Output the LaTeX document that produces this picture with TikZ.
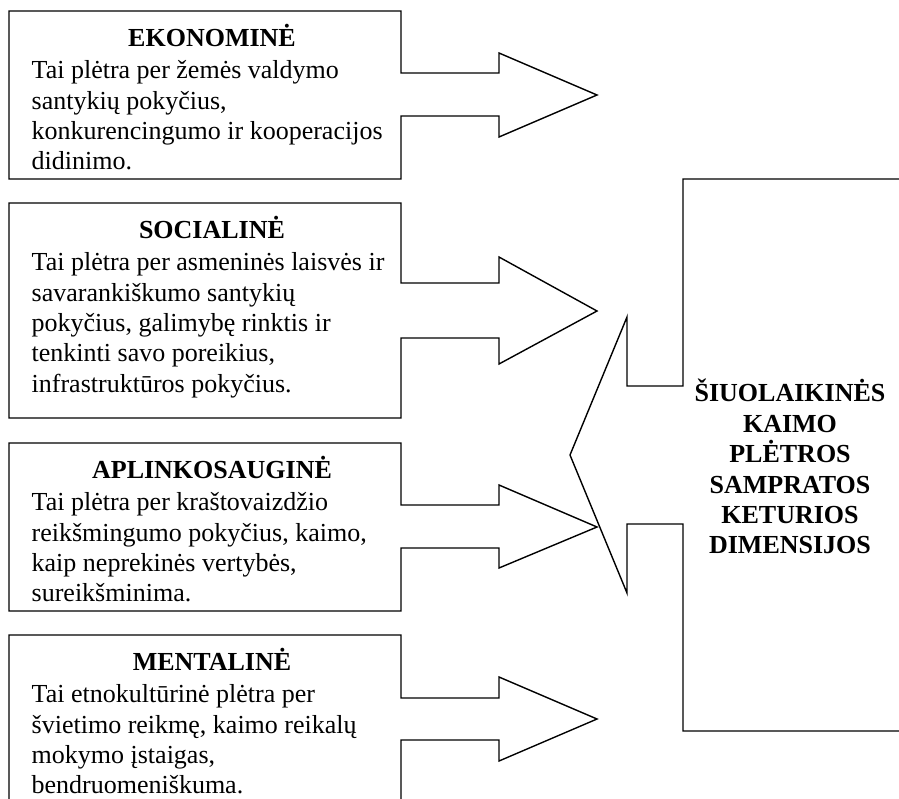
\documentclass[tikz,border=0pt]{standalone}
\usepackage{fontspec}
\setmainfont{Liberation Serif}
\begin{document}
\begin{tikzpicture}[x=1pt,y=-1pt,line width=1.4pt,line join=miter,
		ttl/.style={anchor=base,inner sep=0pt,font=\fontsize{26}{30.4}\selectfont\bfseries},
		body/.style={anchor=north west,inner sep=0pt,align=left,font=\fontsize{26}{30.4}\selectfont},
		big/.style={anchor=north,inner sep=0pt,align=center,font=\fontsize{26}{30.4}\selectfont\bfseries}]
	\clip (0,0) rectangle (899,798);
	%
	\draw (9,11) -- (401,11) -- (401,73) -- (499,73) -- (499,53) -- (597,95) -- (499,137) -- (499,116) -- (401,116) -- (401,179) -- (9,179) -- cycle;
	\draw (9,203) -- (401,203) -- (401,283) -- (499,283) -- (499,257) -- (597,311) -- (499,364) -- (499,338) -- (401,338) -- (401,418) -- (9,418) -- cycle;
	\draw (9,443) -- (401,443) -- (401,505) -- (499,505) -- (499,485) -- (597,527) -- (499,568) -- (499,548) -- (401,548) -- (401,611) -- (9,611) -- cycle;
	\draw (9,635) -- (401,635) -- (401,698) -- (499,698) -- (499,677) -- (597,719) -- (499,761) -- (499,740) -- (401,740) -- (401,803) -- (9,803) -- cycle;
	%
	\draw (905,179) -- (683,179) -- (683,386) -- (627,386) -- (627,317) -- (570,455) -- (627,593) -- (627,524) -- (683,524) -- (683,731) -- (905,731) -- cycle;
	%
	\node[ttl]  (ekoT) at (212,46)   {EKONOMINĖ};
	\node[body] (ekoB) at (31,56.7)  {\strut Tai plėtra per žemės valdymo\\santykių pokyčius,\\konkurencingumo ir kooperacijos\\didinimo.};
	%
	\node[ttl]  (socT) at (212,238)  {SOCIALINĖ};
	\node[body] (socB) at (31,248.7) {\strut Tai plėtra per asmeninės laisvės ir\\savarankiškumo santykių\\pokyčius, galimybę rinktis ir\\tenkinti savo poreikius,\\infrastruktūros pokyčius.};
	%
	\node[ttl]  (aplT) at (212,478)  {APLINKOSAUGINĖ};
	\node[body] (aplB) at (31,488.7) {\strut Tai plėtra per kraštovaizdžio\\reikšmingumo pokyčius, kaimo,\\kaip neprekinės vertybės,\\sureikšminima.};
	%
	\node[ttl]  (menT) at (212,670)  {MENTALINĖ};
	\node[body] (menB) at (31,680.7) {\strut Tai etnokultūrinė plėtra per\\švietimo reikmę, kaimo reikalų\\mokymo įstaigas,\\bendruomeniškuma.};
	%
	\node[big]  (dim) at (790,378.7) {\strut ŠIUOLAIKINĖS\\KAIMO\\PLĖTROS\\SAMPRATOS\\KETURIOS\\DIMENSIJOS};
\end{tikzpicture}
\end{document}
